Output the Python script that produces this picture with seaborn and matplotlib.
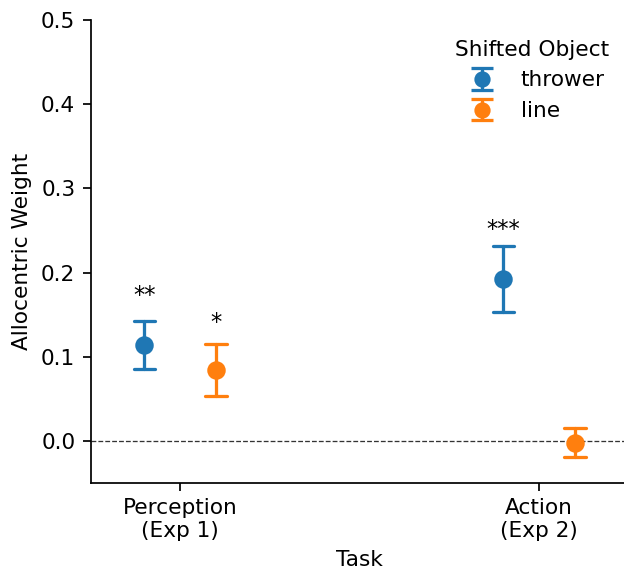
import numpy as np
import pandas as pd
import matplotlib
matplotlib.use("Agg")
import matplotlib.pyplot as plt
import seaborn as sns

# ---- data ----
tasks = ["Perception\n(Exp 1)", "Action\n(Exp 2)"]
objects = ["thrower", "line"]
means = {"thrower": [0.114, 0.192], "line": [0.084, -0.002]}
lower = {"thrower": [0.086, 0.153], "line": [0.053, -0.019]}
upper = {"thrower": [0.142, 0.231], "line": [0.115, 0.015]}
stars = {"thrower": ["**", "***"], "line": ["*", ""]}
star_y = {"thrower": [0.165, 0.244], "line": [0.133, None]}
colors = ["#1f77b4", "#ff7f0e"]

# long-format table: low / mean / high per cell -> median + full-range interval
rows = []
for obj in objects:
    for i, t in enumerate(tasks):
        for v in (lower[obj][i], means[obj][i], upper[obj][i]):
            rows.append({"Task": t, "Shifted Object": obj, "Allocentric Weight": v})
df = pd.DataFrame(rows)

sns.set_style("ticks", {"axes.edgecolor": "k", "text.color": "k",
                        "axes.labelcolor": "k", "xtick.color": "k", "ytick.color": "k"})
plt.rcParams["font.family"] = ["DejaVu Sans"]

fig = plt.figure(figsize=(624 / 156, 571 / 156), dpi=156)
ax = fig.add_axes([90.5 / 624, 1 - 483 / 571, 1.5 * 359 / 624, (483 - 20) / 571])

dodge = 0.2
sns.pointplot(data=df, x="Task", y="Allocentric Weight", hue="Shifted Object",
              order=tasks, hue_order=objects, palette=colors,
              estimator="median", errorbar=("pi", 100), dodge=dodge,
              linestyle="none", markersize=6.5, capsize=0.06,
              err_kws={"linewidth": 1.5}, legend=False, ax=ax)

ax.axhline(0, color="0.2", lw=0.6, ls="--", zorder=0)

offs = np.linspace(-dodge / 2, dodge / 2, len(objects))
for j, obj in enumerate(objects):
    for i in range(len(tasks)):
        if stars[obj][i]:
            ax.text(i + offs[j], star_y[obj][i], stars[obj][i], ha="center",
                    va="baseline", fontsize=10.5, color="k")

# legend with errorbar-style handles
handles = []
for obj, c in zip(objects, colors):
    h = ax.errorbar([np.nan], [np.nan], yerr=[np.nan], fmt="o", color=c,
                    ms=6.5, elinewidth=1.5, capsize=5, capthick=1.5)
    handles.append(h)
ax.legend(handles, objects, title="Shifted Object", loc="upper right",
          frameon=False, fontsize=10, title_fontsize=10)

ax.set_xlim(-0.25, 1.25)
ax.set_ylim(-0.05, 0.5)
ax.set_yticks([0.0, 0.1, 0.2, 0.3, 0.4, 0.5])
ax.set_xlabel("Task", fontsize=10, color="k")
ax.set_ylabel("Allocentric Weight", fontsize=10, color="k")
ax.tick_params(labelsize=10, colors="k")
sns.despine(ax=ax)

fig.savefig("out.png", dpi=156)
